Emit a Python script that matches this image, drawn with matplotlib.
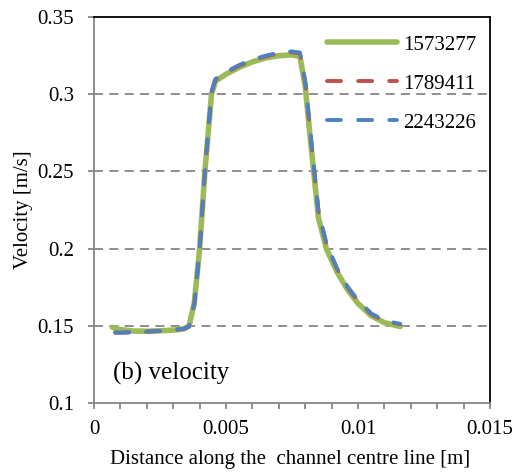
import matplotlib
matplotlib.use("Agg")
import matplotlib.pyplot as plt
from matplotlib.ticker import MultipleLocator, FuncFormatter

# distance along the channel centre line [m] and velocity [m/s] per mesh size
x_1573277 = [0.0007, 0.0010, 0.0015, 0.0020, 0.0025, 0.0030, 0.0034, 0.0036,
             0.0038, 0.0040, 0.0042, 0.00445, 0.0046, 0.0050, 0.0055, 0.0060,
             0.0065, 0.0070, 0.0075, 0.0078, 0.0080, 0.0082, 0.0085, 0.0088,
             0.0092, 0.0096, 0.0100, 0.0105, 0.0110, 0.0116]
v_1573277 = [0.1490, 0.1475, 0.1466, 0.1465, 0.1468, 0.1472, 0.1480, 0.1500,
             0.1650, 0.2000, 0.2500, 0.3000, 0.3085, 0.3130, 0.3175, 0.3210,
             0.3235, 0.3250, 0.3255, 0.3245, 0.3050, 0.2700, 0.2200, 0.2000,
             0.1850, 0.1735, 0.1645, 0.1565, 0.1520, 0.1495]

x_1789411 = [0.0008, 0.0010, 0.0015, 0.0020, 0.0025, 0.0030, 0.0034, 0.0036,
             0.0038, 0.0040, 0.0042, 0.00445, 0.0046, 0.0050, 0.0055, 0.0060,
             0.0065, 0.0070, 0.0075, 0.0078, 0.0080, 0.0082, 0.0085, 0.0088,
             0.0092, 0.0096, 0.0100, 0.0105, 0.0110, 0.0116]
v_1789411 = [0.1455, 0.1455, 0.1458, 0.1462, 0.1466, 0.1472, 0.1480, 0.1495,
             0.1640, 0.1990, 0.2500, 0.3010, 0.3095, 0.3140, 0.3185, 0.3220,
             0.3245, 0.3265, 0.3272, 0.3265, 0.3080, 0.2740, 0.2240, 0.2030,
             0.1870, 0.1750, 0.1660, 0.1575, 0.1530, 0.1510]

x_2243226 = [0.0008, 0.0010, 0.0015, 0.0020, 0.0025, 0.0030, 0.0034, 0.0036,
             0.0038, 0.0040, 0.0042, 0.00445, 0.0046, 0.0050, 0.0055, 0.0060,
             0.0065, 0.0070, 0.0075, 0.0078, 0.0080, 0.0082, 0.0085, 0.0088,
             0.0092, 0.0096, 0.0100, 0.0105, 0.0110, 0.0116]
v_2243226 = [0.1458, 0.1456, 0.1459, 0.1463, 0.1467, 0.1473, 0.1481, 0.1496,
             0.1645, 0.1995, 0.2505, 0.3015, 0.3100, 0.3145, 0.3190, 0.3225,
             0.3250, 0.3270, 0.3278, 0.3270, 0.3085, 0.2745, 0.2245, 0.2035,
             0.1875, 0.1755, 0.1665, 0.1580, 0.1535, 0.1512]

grid_levels = [0.15, 0.2, 0.25, 0.3]

plt.rcParams["font.family"] = ["Liberation Serif", "DejaVu Serif"]
plt.rcParams["font.size"] = 15

fig = plt.figure(figsize=(5.18, 4.75), dpi=100)
ax = fig.add_axes([0.1815, 0.1516, 0.7645, 0.8124])

for yv in grid_levels:
    ax.axhline(yv, color="#868686", lw=1.3, ls=(0, (5, 3.5)), zorder=1)

ax.plot(x_1573277, v_1573277, color="#9BBB59", lw=4,
        solid_capstyle="round", label="1573277", zorder=2)
ax.plot(x_1789411, v_1789411, color="#C0504D", lw=2.8,
        dashes=(3.6, 4.4), dash_capstyle="round", label="1789411", zorder=3)
ax.plot(x_2243226, v_2243226, color="#4F81BD", lw=2.8,
        dashes=(3.6, 4.4), dash_capstyle="round", label="2243226", zorder=4)

ax.set_xlim(0, 0.015)
ax.set_ylim(0.1, 0.35)
ax.xaxis.set_major_locator(MultipleLocator(0.005))
ax.xaxis.set_minor_locator(MultipleLocator(0.001))
ax.yaxis.set_major_locator(MultipleLocator(0.05))
ax.xaxis.set_major_formatter(FuncFormatter(lambda v, p: f"{v:g}"))
ax.yaxis.set_major_formatter(FuncFormatter(lambda v, p: f"{v:g}"))

for side in ["left", "bottom"]:
    ax.spines[side].set_color("#868686")
    ax.spines[side].set_linewidth(1.3)
for side in ["top", "right"]:
    ax.spines[side].set_color("black")
    ax.spines[side].set_linewidth(1.3)

ax.tick_params(which="both", direction="out", length=4.3, width=1.3,
               color="#868686", labelsize=15)
ax.tick_params(axis="x", pad=8)
ax.tick_params(axis="y", pad=10)
ax.tick_params(axis="y", which="minor", length=0)

fig.text(0.56, 0.032, "Distance along the  channel centre line [m]",
         ha="center", va="center", fontsize=15)
fig.text(0.046, 0.558, "Velocity [m/s]", rotation=90,
         ha="center", va="center", fontsize=15)

ax.text(0.048, 0.06, "(b) velocity", transform=ax.transAxes, fontsize=18,
        va="baseline")

ax.legend(loc="upper right", bbox_to_anchor=(0.987, 0.975), frameon=False,
          handlelength=3.35, labelspacing=0.93, handletextpad=0.3,
          borderaxespad=0, fontsize=15)

fig.savefig("out.png", dpi=100)
